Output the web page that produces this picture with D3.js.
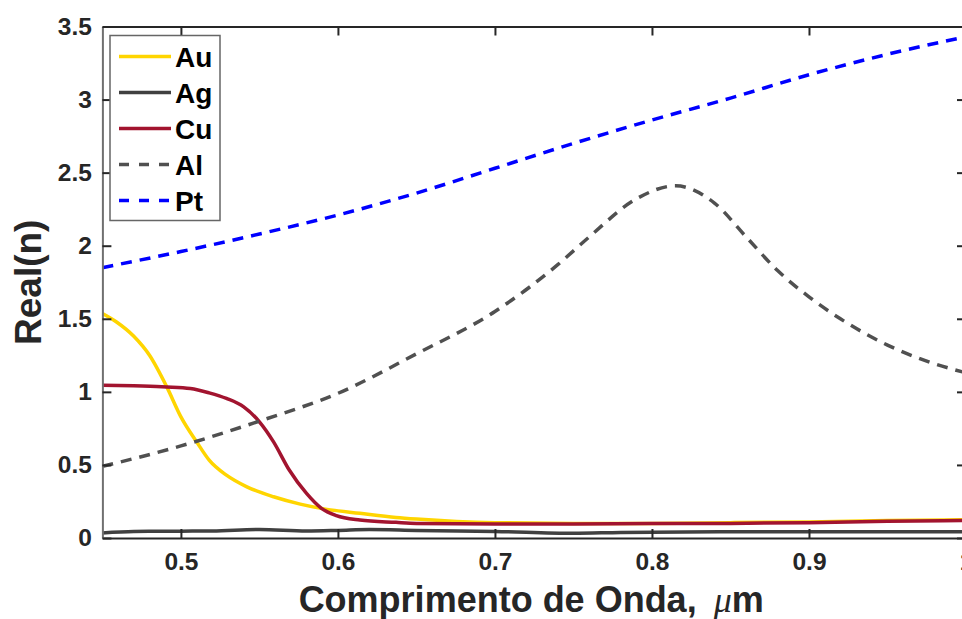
<!DOCTYPE html>
<html>
<head>
<meta charset="utf-8">
<script src="https://cdn.jsdelivr.net/npm/d3@7"></script>
<style>
  html, body { margin: 0; padding: 0; background: #fff; overflow: hidden; }
  svg { display: block; font-family: "Liberation Sans", Arial, sans-serif; font-weight: bold; }
  .tick text { fill: #262626; font-size: 24.5px; font-weight: bold; }
</style>
</head>
<body>
<script>

// wavelength (um) and real part of refractive index
let auX = [0.45, 0.459, 0.47, 0.48, 0.491, 0.5, 0.51, 0.518, 0.529, 0.542, 0.559, 0.576, 0.593, 0.614, 0.637, 0.65, 0.7, 0.75, 0.8, 0.85, 0.9, 0.95, 1.0]
let auY = [1.536, 1.478, 1.38, 1.25, 1.034, 0.829, 0.658, 0.533, 0.43, 0.35, 0.282, 0.232, 0.196, 0.169, 0.141, 0.13, 0.105, 0.1, 0.1, 0.105, 0.11, 0.12, 0.125]

let agX = [0.45, 0.47, 0.5, 0.52, 0.55, 0.58, 0.6, 0.62, 0.65, 0.7, 0.75, 0.78, 0.8, 0.85, 0.9, 0.95, 1.0]
let agY = [0.035, 0.045, 0.047, 0.048, 0.058, 0.048, 0.052, 0.058, 0.052, 0.045, 0.032, 0.038, 0.04, 0.042, 0.042, 0.042, 0.042]

let cuX = [0.45, 0.47, 0.491, 0.506, 0.518, 0.529, 0.54, 0.55, 0.559, 0.569, 0.58, 0.5895, 0.599, 0.614, 0.637, 0.65, 0.7, 0.75, 0.8, 0.85, 0.9, 0.95, 1.0]
let cuY = [1.046, 1.041, 1.034, 1.023, 0.993, 0.955, 0.897, 0.795, 0.658, 0.465, 0.305, 0.203, 0.153, 0.123, 0.107, 0.1, 0.095, 0.095, 0.1, 0.1, 0.105, 0.115, 0.12]

let alX = [0.45, 0.5, 0.55, 0.6, 0.65, 0.7, 0.74, 0.76, 0.79, 0.815, 0.84, 0.86, 0.88, 0.9, 0.92, 0.95, 0.975, 1.0]
let alY = [0.49, 0.63, 0.80, 0.99, 1.26, 1.55, 1.87, 2.06, 2.32, 2.41, 2.29, 2.06, 1.83, 1.65, 1.50, 1.32, 1.21, 1.13]

let ptX = [0.45, 0.5, 0.55, 0.6, 0.65, 0.7, 0.75, 0.8, 0.85, 0.9, 0.95, 1.0]
let ptY = [1.85, 1.96, 2.08, 2.21, 2.36, 2.53, 2.70, 2.86, 3.01, 3.17, 3.31, 3.43]

let names = ['Au', 'Ag', 'Cu', 'Al', 'Pt']
let xTicks = [0.5, 0.6, 0.7, 0.8, 0.9, 1.0]
let yTicks = [0, 0.5, 1, 1.5, 2, 2.5, 3, 3.5]

let series = [
  { name: 'Au', xs: auX, ys: auY, color: '#FFD500', dash: null },
  { name: 'Ag', xs: agX, ys: agY, color: '#404040', dash: null },
  { name: 'Cu', xs: cuX, ys: cuY, color: '#A2142F', dash: null },
  { name: 'Al', xs: alX, ys: alY, color: '#505050', dash: '11,8' },
  { name: 'Pt', xs: ptX, ys: ptY, color: '#0000FF', dash: '11,8' }
]

let width = 962, height = 619
let margin = { top: 26.5, left: 102.4, right: -4, bottom: 81 }
let plot_width = width - margin.left - margin.right
let plot_height = height - margin.top - margin.bottom

let svg = d3.select('body').append('svg')
  .attr('width', width)
  .attr('height', height)

let xScale = d3.scaleLinear().domain([0.45, 1.0]).range([0, plot_width])
let yScale = d3.scaleLinear().domain([0, 3.5]).range([plot_height, 0])

let g = svg.append('g')
  .attr('transform', `translate(${margin.left},${margin.top})`)

g.append('clipPath').attr('id', 'clip')
  .append('rect').attr('width', plot_width).attr('height', plot_height)

let line = d3.line()
  .x(d => xScale(d[0]))
  .y(d => yScale(d[1]))
  .curve(d3.curveMonotoneX)

let plot = g.append('g').attr('clip-path', 'url(#clip)')

series.forEach(s => {
  let pts = s.xs.map((x, i) => [x, s.ys[i]])
  plot.append('path')
    .datum(pts)
    .attr('d', line)
    .attr('fill', 'none')
    .attr('stroke', s.color)
    .attr('stroke-width', 3.5)
    .attr('stroke-dasharray', s.dash)
})

// axes (ticks inward, box on all four sides)
let fmt = d => d === 1 ? '1' : String(d)

let xAxis = g.append('g')
  .attr('transform', `translate(0,${plot_height})`)
  .call(d3.axisBottom(xScale).tickValues(xTicks).tickFormat(fmt).tickSizeInner(-9).tickSizeOuter(0).tickPadding(15))
let yAxis = g.append('g')
  .call(d3.axisLeft(yScale).tickValues(yTicks).tickFormat(fmt).tickSizeInner(-9).tickSizeOuter(0).tickPadding(10.5))
let xTop = g.append('g')
  .call(d3.axisTop(xScale).tickValues(xTicks).tickFormat('').tickSizeInner(-9).tickSizeOuter(0))
let yRight = g.append('g')
  .attr('transform', `translate(${plot_width},0)`)
  .call(d3.axisRight(yScale).tickValues(yTicks).tickFormat('').tickSizeInner(-9).tickSizeOuter(0))

g.selectAll('.domain').attr('stroke', '#262626').attr('stroke-width', 2)
g.selectAll('.tick line').attr('stroke', '#262626').attr('stroke-width', 2)
yAxis.select('.domain').attr('stroke', '#707070')

// axis labels
svg.append('text')
  .attr('x', margin.left + plot_width / 2 - 3)
  .attr('y', 612)
  .attr('text-anchor', 'middle')
  .attr('fill', '#262626')
  .attr('font-size', '36px')
  .call(t => {
    t.append('tspan').text('Comprimento de Onda, ')
    t.append('tspan').attr('dx', 7).attr('font-family', '"Liberation Serif", serif').attr('font-style', 'italic').attr('font-weight', 'normal').text('\u03bc')
    t.append('tspan').text('m')
  })

svg.append('text')
  .attr('transform', `translate(41,${margin.top + plot_height / 2}) rotate(-90)`)
  .attr('text-anchor', 'middle')
  .attr('fill', '#262626')
  .attr('font-size', '37px')
  .text('Real(n)')

// legend
let legend = svg.append('g').attr('class', 'legend')
legend.append('rect')
  .attr('x', 110).attr('y', 35.5)
  .attr('width', 110).attr('height', 185)
  .attr('fill', '#fff')
  .attr('stroke', '#666')
  .attr('stroke-width', 1.5)

series.forEach((s, i) => {
  let y = 56.5 + i * 36
  legend.append('line')
    .attr('x1', 119).attr('x2', 171)
    .attr('y1', y).attr('y2', y)
    .attr('stroke', s.color)
    .attr('stroke-width', 3.5)
    .attr('stroke-dasharray', s.dash ? '10,10' : null)
  legend.append('text')
    .attr('x', 175)
    .attr('y', y + 10)
    .attr('font-size', '28px')
    .attr('fill', '#000')
    .text(names[i])
})

</script>
</body>
</html>
